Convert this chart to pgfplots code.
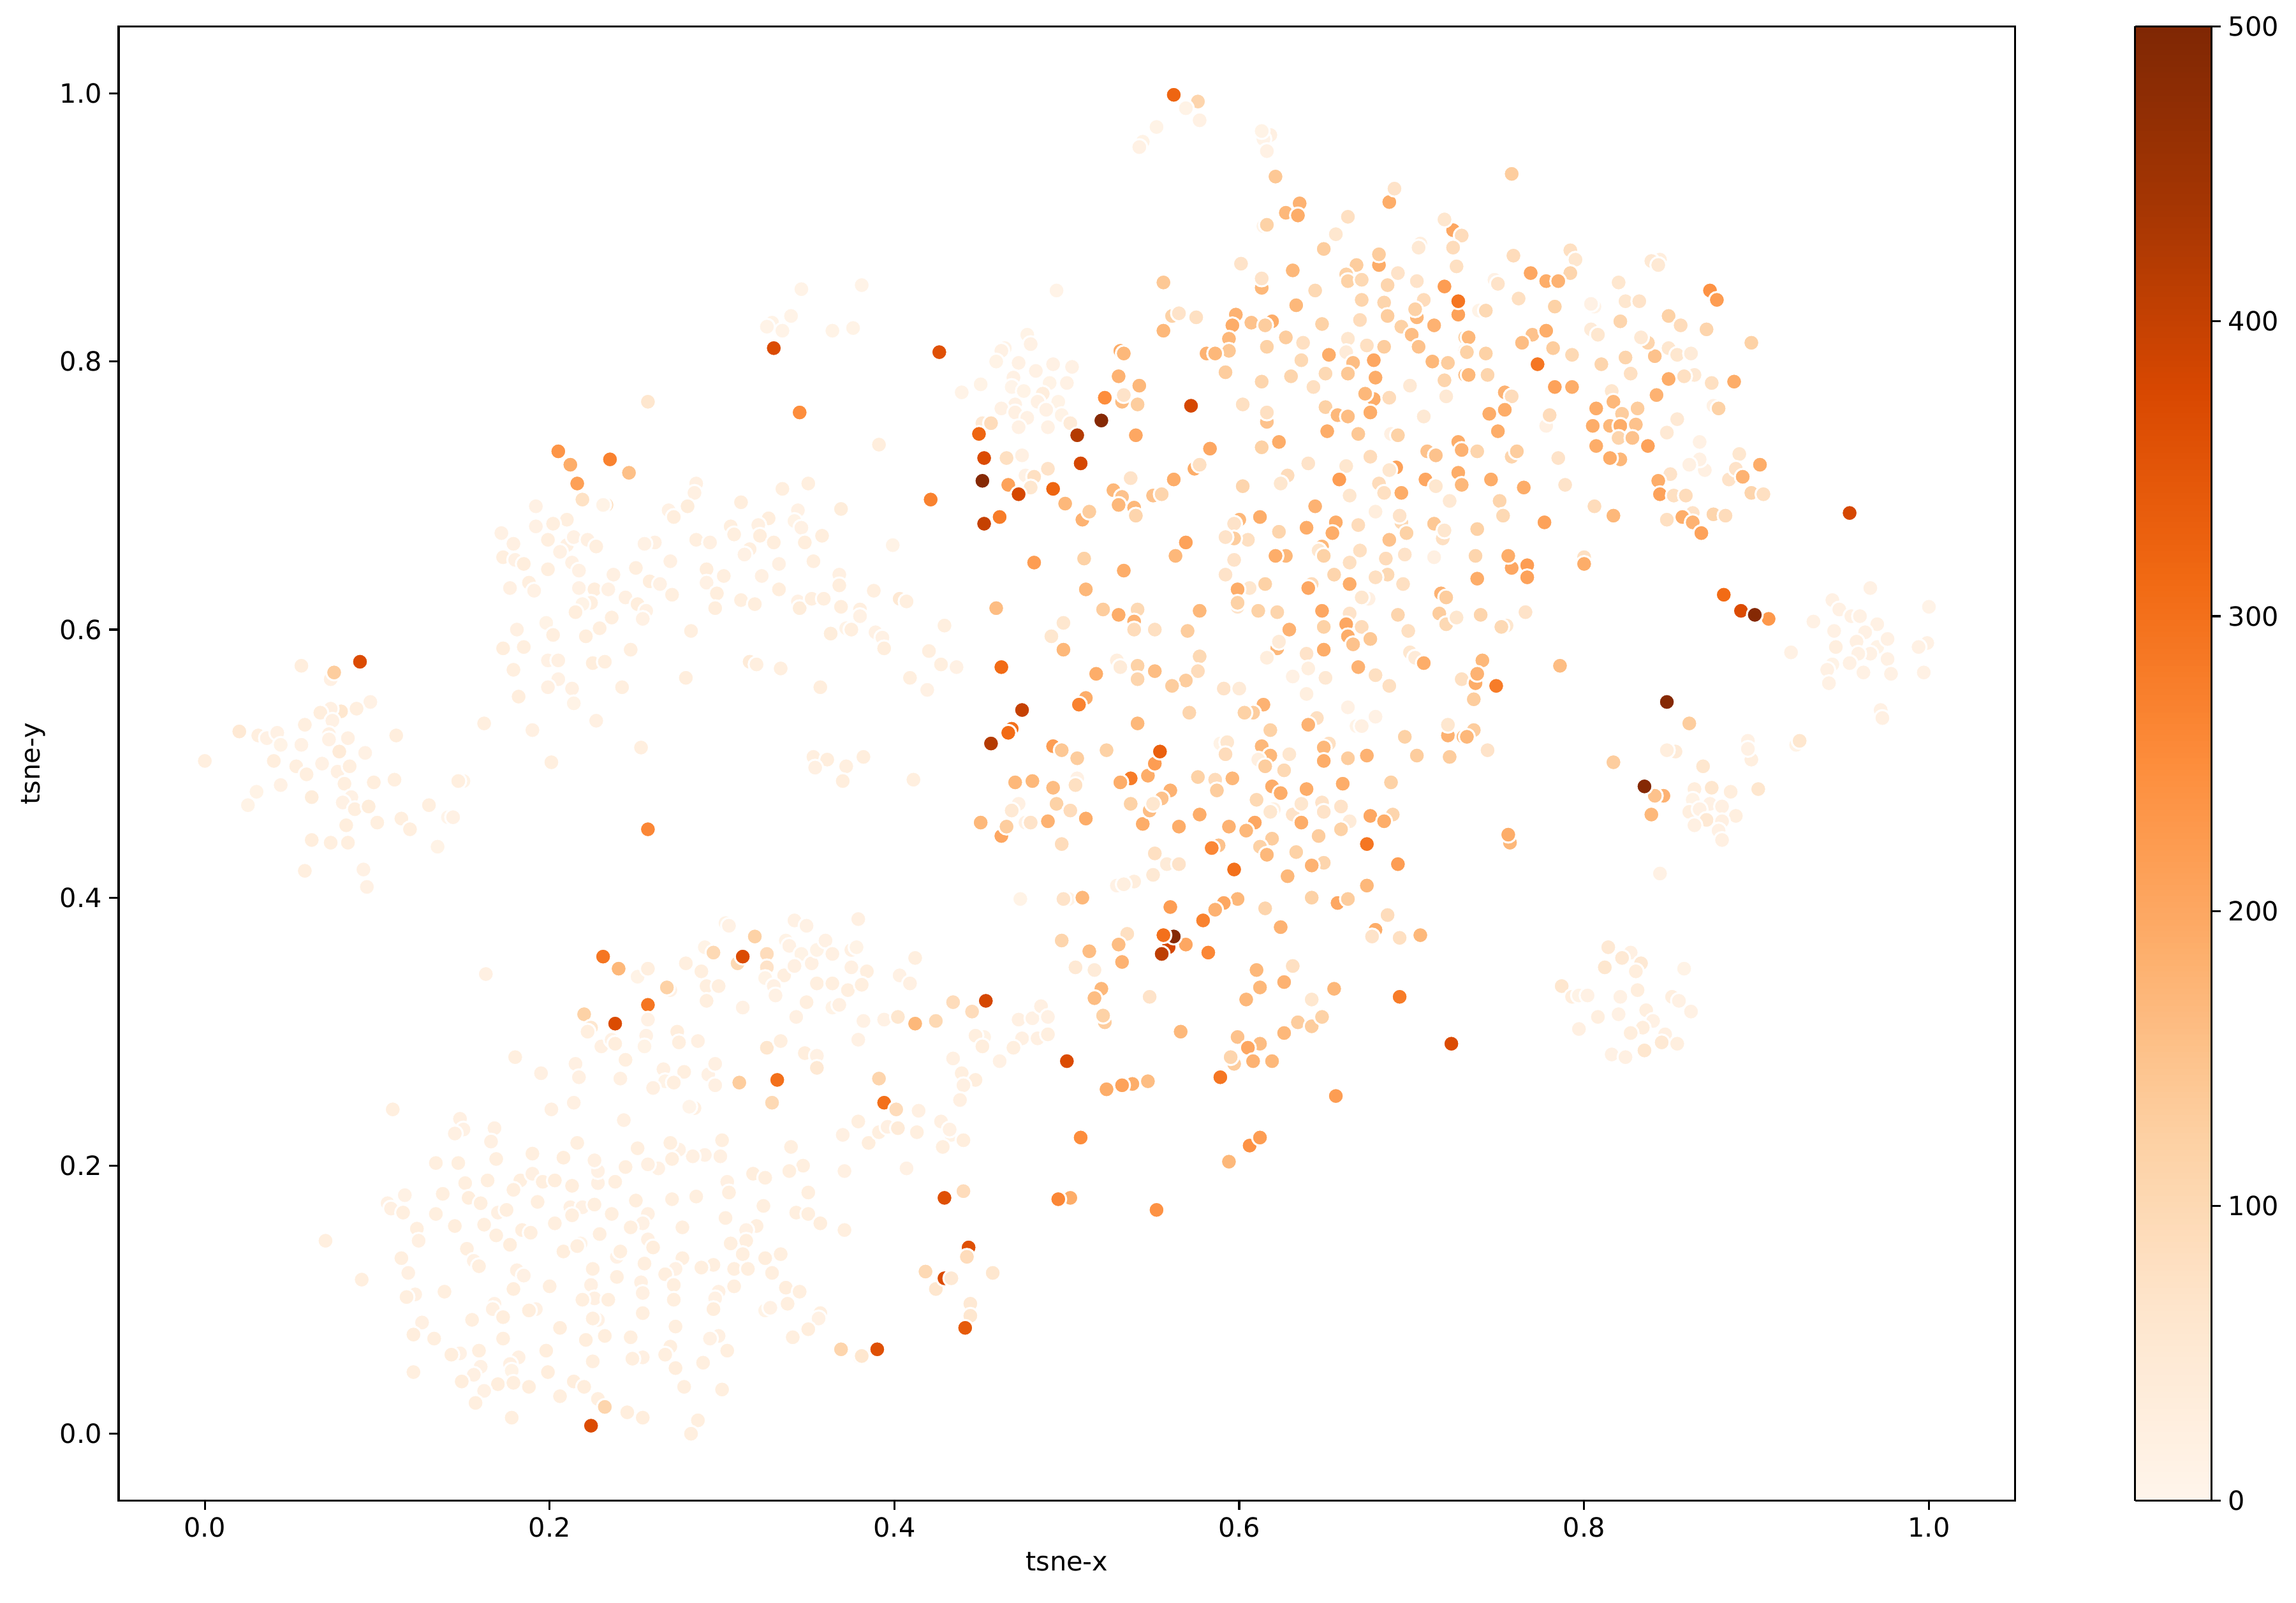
\documentclass[border=0pt]{standalone}
\usepackage{pgfplots}
\usepackage{pgfplotstable}
\usepackage{fontspec}
\setmainfont{DejaVu Sans}
\pgfplotsset{compat=1.18}
\pgfplotsset{colormap={oranges}{rgb255=(255,245,235) rgb255=(254,230,206) rgb255=(253,208,162) rgb255=(253,174,107) rgb255=(253,141,60) rgb255=(241,105,19) rgb255=(217,72,1) rgb255=(166,54,3) rgb255=(127,39,4)}}
\pgfplotstableread{
x y v
.346 .854 8
.381 .857 8
.340 .834 8
.329 .829 10
.326 .826 8
.335 .823 8
.364 .823 10
.376 .825 10
.330 .810 370
.257 .770 60
.345 .762 250
.391 .738 30
.205 .733 235
.235 .727 270
.212 .723 190
.246 .717 155
.216 .709 215
.219 .697 75
.233 .693 75
.231 .693 10
.285 .709 20
.284 .702 20
.280 .692 35
.269 .689 15
.272 .684 30
.192 .692 15
.311 .695 30
.335 .705 25
.350 .709 25
.369 .690 35
.344 .689 15
.342 .681 10
.346 .676 15
.327 .683 30
.321 .678 20
.305 .677 25
.307 .671 25
.322 .670 30
.330 .665 30
.348 .665 30
.358 .670 30
.285 .667 25
.293 .665 20
.316 .660 25
.313 .656 15
.333 .649 20
.353 .651 25
.270 .651 20
.261 .665 20
.255 .664 15
.399 .663 10
.210 .682 25
.202 .679 25
.192 .677 15
.172 .672 15
.179 .664 20
.199 .667 25
.210 .663 20
.214 .669 15
.222 .667 20
.227 .662 25
.206 .658 15
.173 .654 25
.180 .652 15
.185 .649 30
.199 .645 25
.213 .650 15
.217 .644 15
.237 .641 20
.250 .646 25
.258 .636 30
.264 .634 15
.271 .626 25
.244 .624 20
.251 .619 30
.256 .614 15
.254 .608 15
.177 .631 20
.188 .635 25
.191 .629 15
.217 .631 15
.226 .630 30
.234 .630 15
.224 .620 25
.219 .619 10
.215 .613 30
.236 .609 25
.229 .601 25
.221 .595 30
.247 .585 25
.198 .605 10
.202 .596 25
.181 .600 20
.185 .587 25
.173 .586 30
.179 .570 25
.199 .577 15
.205 .577 20
.225 .575 30
.232 .576 25
.205 .563 15
.199 .557 20
.213 .556 20
.214 .545 10
.242 .557 25
.182 .550 30
.279 .564 30
.316 .576 40
.320 .574 25
.334 .571 25
.357 .557 30
.282 .599 25
.291 .645 30
.291 .635 15
.301 .640 25
.297 .627 30
.296 .616 30
.311 .622 25
.319 .619 30
.333 .630 30
.323 .640 20
.344 .621 15
.345 .616 35
.352 .623 25
.359 .623 25
.369 .617 30
.368 .641 20
.368 .633 30
.380 .615 25
.380 .610 15
.388 .629 25
.363 .597 35
.372 .601 10
.375 .600 25
.389 .598 15
.393 .594 15
.394 .586 30
.056 .573 30
.073 .563 20
.075 .568 130
.090 .576 370
.096 .546 15
.079 .539 60
.073 .541 20
.067 .538 30
.088 .541 25
.074 .532 15
.020 .524 50
.031 .521 25
.036 .519 15
.042 .523 15
.044 .514 10
.058 .529 25
.056 .514 15
.072 .522 20
.072 .518 15
.083 .519 20
.111 .521 30
.078 .509 40
.093 .508 15
.000 .502 25
.040 .502 30
.053 .498 25
.059 .492 25
.068 .500 15
.077 .494 20
.084 .498 25
.081 .485 25
.098 .486 30
.110 .488 25
.150 .487 10
.147 .487 25
.044 .484 15
.030 .479 10
.025 .469 10
.062 .475 35
.085 .475 15
.080 .471 15
.087 .466 25
.095 .468 35
.130 .469 25
.114 .459 25
.119 .451 25
.100 .456 25
.082 .454 30
.141 .460 5
.144 .460 15
.062 .443 30
.073 .441 25
.083 .441 25
.135 .438 10
.058 .420 25
.092 .421 15
.094 .408 15
.162 .530 25
.190 .525 20
.201 .501 25
.253 .512 25
.227 .532 20
.257 .451 260
.353 .505 25
.361 .503 30
.354 .497 20
.372 .498 25
.382 .505 30
.370 .487 30
.163 .343 20
.180 .281 25
.195 .269 20
.215 .276 20
.217 .266 20
.220 .313 120
.224 .303 60
.222 .300 25
.231 .356 290
.240 .347 170
.251 .341 10
.257 .347 25
.270 .331 15
.268 .333 120
.257 .320 290
.257 .309 15
.238 .306 370
.230 .289 20
.236 .294 15
.238 .291 30
.256 .297 15
.255 .289 10
.244 .279 25
.241 .265 20
.274 .300 30
.275 .292 25
.286 .293 20
.266 .272 20
.278 .270 25
.267 .263 10
.272 .262 25
.260 .258 20
.292 .268 15
.296 .276 20
.296 .260 20
.310 .262 130
.332 .264 300
.329 .247 100
.326 .288 60
.334 .293 25
.348 .284 30
.355 .282 15
.355 .273 50
.391 .265 110
.394 .247 300
.379 .233 25
.370 .223 20
.385 .217 30
.391 .225 25
.396 .229 20
.371 .196 20
.340 .214 25
.347 .200 25
.339 .196 25
.350 .180 25
.318 .194 30
.325 .191 25
.303 .188 20
.304 .180 25
.300 .219 25
.299 .207 20
.290 .208 15
.283 .207 20
.275 .212 15
.270 .217 25
.271 .205 25
.263 .198 15
.257 .201 20
.251 .213 25
.244 .199 25
.238 .188 25
.228 .187 20
.228 .196 15
.226 .204 20
.216 .217 25
.208 .206 30
.201 .242 20
.214 .247 20
.243 .234 20
.109 .242 25
.284 .243 20
.281 .244 5
.168 .228 20
.148 .235 20
.150 .227 15
.145 .224 20
.166 .218 20
.169 .205 25
.190 .209 25
.134 .202 25
.147 .202 25
.151 .187 25
.164 .189 25
.183 .189 25
.190 .194 20
.196 .188 25
.203 .189 30
.213 .185 30
.179 .182 25
.138 .179 25
.153 .176 30
.160 .172 25
.193 .173 25
.116 .178 15
.106 .172 15
.108 .168 20
.115 .165 25
.134 .164 25
.170 .165 20
.175 .167 25
.212 .169 20
.219 .169 15
.226 .171 25
.213 .163 25
.236 .164 25
.250 .174 30
.271 .175 25
.285 .177 25
.257 .164 20
.254 .157 15
.247 .154 25
.203 .157 25
.229 .149 25
.277 .154 25
.302 .161 25
.324 .170 25
.343 .165 25
.350 .164 25
.357 .157 30
.371 .152 25
.320 .155 25
.314 .152 15
.314 .144 25
.305 .142 25
.123 .153 25
.145 .155 30
.162 .156 25
.169 .148 25
.184 .152 25
.189 .150 25
.070 .144 25
.124 .144 20
.152 .138 25
.177 .141 30
.208 .136 30
.218 .142 10
.216 .140 25
.257 .145 20
.260 .139 30
.239 .132 15
.241 .136 25
.277 .131 25
.255 .127 25
.312 .134 25
.325 .131 30
.334 .134 25
.114 .131 25
.156 .129 15
.159 .125 25
.118 .120 20
.181 .122 20
.185 .118 15
.225 .123 25
.295 .126 25
.288 .124 25
.307 .123 25
.315 .123 25
.329 .120 25
.273 .123 15
.267 .119 25
.239 .117 25
.091 .115 25
.272 .111 25
.253 .113 20
.224 .111 20
.200 .110 25
.179 .108 30
.307 .110 25
.337 .109 30
.345 .106 25
.298 .106 20
.254 .105 20
.139 .106 25
.122 .104 20
.117 .102 25
.226 .101 20
.219 .100 25
.234 .100 25
.272 .100 25
.296 .101 15
.338 .097 25
.325 .092 10
.328 .094 15
.295 .093 30
.168 .097 15
.167 .093 20
.192 .093 15
.188 .092 30
.254 .090 25
.173 .087 30
.357 .090 25
.356 .086 15
.350 .078 30
.155 .085 25
.228 .085 15
.225 .086 25
.126 .083 20
.273 .080 25
.206 .079 30
.121 .074 30
.133 .071 25
.173 .071 25
.232 .073 30
.247 .072 25
.221 .070 30
.298 .073 20
.293 .071 15
.341 .072 25
.270 .065 25
.303 .062 25
.198 .062 30
.159 .062 25
.148 .060 15
.143 .059 30
.369 .063 110
.390 .063 360
.380 .057 10
.381 .058 60
.182 .057 20
.177 .052 20
.160 .050 15
.178 .047 10
.156 .044 20
.121 .046 25
.225 .054 25
.254 .057 20
.248 .056 25
.267 .059 25
.273 .049 30
.289 .053 25
.199 .046 30
.149 .039 30
.170 .037 30
.179 .038 25
.162 .032 15
.188 .035 30
.214 .039 30
.220 .035 30
.278 .035 25
.300 .033 25
.228 .026 25
.232 .020 110
.206 .028 25
.157 .023 25
.178 .012 25
.245 .016 30
.254 .012 30
.286 .010 25
.282 .000 25
.224 .006 370
.302 .381 10
.304 .379 15
.319 .371 120
.342 .383 15
.349 .379 15
.379 .384 20
.290 .363 10
.295 .359 100
.309 .351 100
.312 .356 370
.326 .358 90
.326 .348 70
.325 .340 10
.336 .342 25
.330 .334 15
.331 .327 15
.337 .368 10
.339 .364 15
.346 .358 10
.342 .349 20
.352 .351 20
.355 .361 10
.360 .368 15
.364 .358 20
.375 .361 20
.378 .363 10
.375 .348 20
.384 .345 25
.355 .336 25
.364 .336 25
.373 .331 25
.381 .335 25
.349 .322 25
.364 .318 10
.368 .320 20
.343 .311 20
.382 .308 15
.379 .294 15
.394 .309 15
.279 .351 25
.288 .345 25
.291 .334 25
.298 .334 25
.291 .323 25
.312 .318 15
.418 .121 100
.424 .108 60
.429 .116 370
.433 .116 50
.443 .139 360
.442 .132 90
.457 .120 60
.444 .097 50
.444 .088 60
.441 .079 340
.459 .616 160
.429 .603 25
.498 .605 60
.491 .595 60
.498 .585 170
.420 .584 25
.427 .574 25
.436 .572 15
.409 .564 25
.419 .555 15
.462 .572 310
.474 .540 400
.468 .526 300
.466 .523 310
.456 .515 420
.411 .488 25
.492 .513 220
.497 .510 140
.506 .504 130
.523 .510 120
.511 .549 190
.507 .544 270
.517 .567 190
.530 .611 190
.521 .615 130
.541 .615 100
.539 .606 180
.539 .600 90
.551 .600 80
.570 .599 130
.577 .614 170
.529 .577 25
.531 .572 40
.541 .573 120
.541 .563 110
.551 .569 160
.577 .580 100
.576 .569 90
.569 .562 130
.561 .558 130
.591 .556 70
.600 .556 40
.622 .586 170
.623 .591 40
.616 .579 30
.629 .600 180
.622 .613 110
.611 .614 120
.599 .617 70
.648 .614 200
.649 .602 120
.649 .585 190
.639 .582 70
.640 .571 25
.631 .565 15
.650 .564 50
.664 .612 70
.662 .604 200
.671 .602 90
.676 .593 140
.663 .595 190
.666 .589 150
.692 .611 110
.698 .599 80
.669 .572 180
.679 .566 80
.687 .558 80
.699 .583 60
.702 .579 40
.707 .575 190
.716 .612 130
.720 .604 100
.726 .609 60
.729 .563 80
.639 .552 25
.614 .544 180
.608 .538 130
.603 .538 120
.571 .538 110
.541 .530 170
.663 .542 15
.679 .535 15
.668 .528 10
.671 .528 20
.645 .534 80
.640 .529 180
.589 .515 10
.593 .516 60
.592 .507 90
.618 .525 120
.613 .513 170
.618 .506 170
.629 .507 60
.611 .503 25
.615 .498 130
.626 .495 100
.652 .515 80
.649 .512 170
.649 .502 190
.663 .504 130
.674 .506 180
.696 .520 120
.703 .506 130
.722 .505 130
.721 .521 180
.721 .529 60
.730 .520 160
.576 .490 120
.586 .488 90
.587 .480 130
.596 .489 170
.619 .483 190
.624 .478 190
.639 .481 190
.660 .485 190
.688 .486 120
.610 .473 100
.620 .466 25
.618 .464 60
.631 .462 70
.636 .470 60
.636 .456 190
.648 .471 70
.649 .464 70
.659 .468 70
.664 .457 40
.659 .451 120
.676 .461 200
.689 .462 110
.684 .457 190
.646 .446 130
.619 .444 130
.612 .438 120
.616 .432 170
.633 .434 120
.649 .426 110
.642 .424 180
.674 .440 290
.692 .425 220
.628 .416 170
.609 .456 200
.604 .450 170
.594 .453 180
.577 .462 190
.565 .453 190
.544 .455 190
.588 .439 150
.584 .437 260
.597 .421 300
.537 .470 120
.547 .491 190
.551 .500 220
.554 .509 330
.537 .489 280
.531 .486 190
.560 .480 180
.555 .474 150
.548 .465 160
.550 .470 60
.470 .486 170
.480 .487 170
.492 .482 160
.506 .489 15
.505 .484 80
.494 .470 120
.502 .465 90
.472 .470 20
.468 .465 50
.511 .459 190
.489 .457 180
.476 .456 15
.479 .456 70
.462 .446 200
.465 .453 130
.450 .456 170
.497 .440 90
.551 .433 80
.558 .425 40
.565 .425 70
.550 .417 50
.539 .412 30
.529 .409 15
.533 .410 25
.473 .399 10
.501 .399 10
.498 .399 70
.509 .400 170
.560 .393 220
.599 .399 170
.591 .396 200
.586 .391 180
.579 .383 270
.615 .392 110
.624 .378 180
.642 .400 120
.657 .396 200
.663 .399 130
.674 .409 170
.686 .387 90
.679 .376 190
.677 .371 70
.693 .370 80
.705 .372 170
.497 .368 110
.535 .373 80
.530 .365 160
.513 .360 160
.532 .352 180
.505 .348 50
.516 .346 40
.559 .363 380
.569 .365 200
.582 .359 260
.562 .371 490
.556 .372 300
.555 .358 410
.610 .346 170
.612 .333 170
.631 .349 80
.626 .337 180
.604 .324 170
.642 .324 60
.655 .332 170
.693 .326 280
.520 .332 170
.516 .325 160
.548 .326 70
.522 .307 130
.521 .312 120
.412 .355 25
.403 .342 15
.409 .336 20
.402 .311 60
.412 .306 170
.424 .308 100
.434 .322 90
.445 .315 90
.453 .323 380
.472 .309 20
.480 .310 15
.485 .319 20
.489 .311 15
.566 .300 170
.599 .296 150
.612 .291 160
.605 .288 200
.619 .278 170
.608 .278 180
.597 .276 130
.595 .281 110
.626 .299 170
.634 .307 130
.642 .304 130
.648 .311 120
.723 .291 370
.474 .295 20
.483 .295 20
.489 .298 25
.452 .296 10
.447 .297 25
.451 .289 30
.469 .288 25
.461 .278 15
.434 .280 20
.500 .278 370
.439 .269 25
.447 .264 30
.440 .260 20
.438 .249 20
.523 .257 190
.538 .261 190
.532 .260 210
.547 .263 160
.589 .266 290
.656 .252 220
.401 .242 90
.414 .241 20
.402 .228 40
.413 .225 25
.427 .233 20
.433 .223 10
.432 .227 15
.440 .219 30
.428 .214 25
.407 .198 15
.508 .221 250
.606 .215 240
.612 .221 220
.594 .203 170
.429 .176 360
.440 .181 90
.502 .176 190
.495 .175 260
.552 .167 240
.576 .994 110
.562 .999 320
.569 .989 10
.577 .980 15
.552 .975 10
.544 .964 10
.542 .960 15
.618 .969 20
.614 .966 8
.613 .972 10
.616 .957 15
.621 .938 140
.635 .918 180
.627 .911 170
.634 .909 190
.614 .901 10
.616 .902 120
.687 .919 190
.690 .929 70
.663 .908 80
.656 .895 60
.649 .884 130
.724 .898 200
.719 .906 60
.729 .894 90
.724 .885 90
.705 .888 30
.704 .885 50
.726 .871 80
.601 .873 70
.631 .868 170
.613 .855 170
.613 .862 70
.556 .859 140
.681 .872 190
.681 .880 130
.668 .872 130
.662 .865 120
.663 .860 120
.671 .861 100
.686 .857 110
.692 .866 70
.703 .860 70
.719 .856 220
.727 .835 210
.727 .845 290
.707 .846 90
.644 .853 100
.633 .842 170
.671 .846 110
.684 .844 110
.686 .834 130
.670 .831 90
.648 .828 120
.703 .833 170
.702 .839 120
.694 .826 120
.713 .827 180
.700 .820 160
.704 .811 150
.731 .818 120
.731 .808 130
.561 .834 120
.565 .836 70
.575 .833 80
.556 .823 170
.598 .835 180
.596 .827 190
.607 .829 150
.619 .830 190
.615 .827 130
.594 .817 170
.627 .818 130
.616 .811 120
.594 .808 140
.581 .806 180
.586 .806 170
.592 .792 130
.637 .814 80
.663 .817 60
.674 .812 80
.684 .811 130
.652 .805 190
.662 .807 40
.666 .799 160
.636 .801 100
.678 .801 200
.712 .800 170
.721 .799 130
.650 .791 100
.663 .791 140
.679 .788 190
.630 .789 110
.613 .785 110
.643 .781 80
.699 .782 50
.719 .786 110
.731 .790 160
.720 .774 50
.678 .772 190
.673 .776 170
.687 .773 90
.650 .766 120
.657 .760 170
.663 .759 160
.676 .762 190
.602 .768 80
.616 .755 150
.616 .762 80
.707 .759 50
.651 .748 190
.669 .746 140
.688 .746 20
.692 .745 120
.613 .736 120
.623 .740 190
.727 .740 190
.729 .734 180
.709 .733 150
.714 .730 150
.676 .729 90
.640 .724 70
.662 .722 60
.691 .721 210
.687 .719 60
.727 .717 190
.628 .715 90
.624 .709 60
.602 .707 110
.658 .712 220
.681 .709 90
.684 .702 80
.708 .712 200
.714 .707 60
.729 .708 170
.694 .702 190
.664 .700 60
.722 .696 50
.644 .692 180
.679 .688 30
.612 .684 190
.600 .682 170
.597 .679 70
.694 .680 100
.693 .685 70
.656 .680 190
.654 .672 190
.669 .678 90
.639 .676 190
.623 .673 110
.605 .667 80
.597 .668 130
.592 .669 70
.713 .679 140
.718 .668 80
.719 .674 60
.697 .672 120
.687 .667 150
.670 .659 80
.648 .662 170
.646 .659 60
.649 .655 120
.627 .655 170
.621 .655 190
.685 .653 90
.696 .656 70
.664 .650 80
.713 .654 20
.597 .652 70
.592 .641 70
.655 .641 110
.686 .641 100
.679 .639 80
.695 .634 80
.664 .634 190
.615 .634 120
.606 .631 60
.599 .630 190
.642 .634 90
.640 .631 200
.717 .627 180
.720 .624 130
.675 .623 20
.671 .624 60
.599 .620 120
.563 .655 170
.569 .665 210
.510 .653 120
.481 .650 220
.533 .644 190
.511 .630 170
.494 .853 8
.477 .820 10
.479 .813 15
.464 .810 8
.462 .808 15
.459 .800 10
.472 .799 15
.482 .793 15
.492 .798 15
.503 .796 15
.450 .783 10
.439 .777 8
.469 .788 15
.468 .781 5
.475 .778 10
.490 .784 10
.500 .784 15
.486 .776 30
.483 .770 15
.470 .768 15
.462 .765 15
.470 .762 20
.495 .770 10
.488 .764 15
.497 .760 10
.477 .758 15
.502 .754 40
.472 .751 15
.489 .751 15
.531 .808 190
.533 .806 170
.530 .789 180
.542 .782 170
.532 .770 160
.533 .775 70
.522 .773 250
.541 .768 130
.520 .756 490
.540 .745 200
.572 .767 380
.426 .807 360
.451 .754 50
.456 .754 90
.449 .746 320
.506 .745 420
.452 .728 370
.465 .728 80
.474 .730 20
.508 .724 380
.489 .720 70
.476 .715 15
.481 .714 80
.451 .711 490
.466 .708 210
.479 .706 60
.472 .701 380
.492 .705 320
.499 .694 170
.421 .697 270
.461 .684 280
.452 .679 400
.509 .682 180
.513 .688 130
.537 .713 70
.527 .704 170
.532 .699 150
.530 .693 170
.539 .691 170
.540 .685 110
.550 .700 150
.555 .701 110
.562 .712 190
.574 .720 190
.577 .723 80
.583 .735 200
.403 .623 50
.407 .621 25
.758 .940 130
.792 .883 80
.795 .876 60
.792 .866 110
.759 .879 90
.769 .866 200
.778 .860 190
.785 .860 180
.748 .861 15
.750 .858 70
.762 .847 80
.739 .838 10
.743 .838 100
.783 .841 120
.733 .818 170
.732 .807 120
.743 .806 120
.744 .790 110
.733 .790 170
.770 .820 150
.778 .823 190
.764 .814 160
.782 .810 130
.773 .798 290
.793 .805 100
.783 .781 210
.793 .781 190
.754 .777 180
.758 .774 90
.754 .764 190
.745 .761 190
.750 .748 190
.778 .752 20
.780 .760 90
.810 .798 110
.824 .803 110
.821 .830 110
.827 .791 80
.841 .804 150
.837 .814 110
.833 .818 50
.849 .810 60
.854 .805 60
.862 .806 40
.820 .859 60
.806 .841 8
.804 .843 15
.804 .824 40
.808 .820 60
.824 .845 60
.832 .845 70
.844 .876 30
.839 .875 50
.843 .872 50
.849 .834 120
.856 .827 90
.871 .824 110
.873 .853 240
.877 .846 220
.897 .814 120
.849 .787 190
.842 .775 180
.864 .790 50
.858 .789 80
.874 .784 80
.887 .785 190
.816 .778 60
.817 .770 170
.807 .765 190
.822 .761 130
.831 .765 130
.805 .752 190
.815 .752 170
.821 .752 190
.830 .753 150
.820 .743 110
.828 .743 150
.807 .737 190
.821 .727 170
.815 .728 190
.837 .737 210
.854 .757 50
.848 .747 50
.867 .740 15
.870 .719 20
.867 .727 15
.861 .723 20
.875 .767 15
.878 .765 120
.890 .731 60
.884 .712 70
.888 .720 70
.892 .714 180
.902 .723 190
.897 .702 110
.904 .701 80
.850 .716 70
.843 .711 190
.844 .701 210
.852 .700 80
.859 .700 90
.806 .692 90
.817 .685 170
.848 .682 80
.863 .687 70
.857 .684 190
.863 .680 180
.875 .686 110
.882 .685 90
.868 .672 210
.954 .687 380
.789 .708 70
.765 .706 190
.746 .712 190
.785 .728 70
.758 .729 110
.761 .733 130
.738 .733 110
.751 .696 110
.753 .685 100
.777 .680 210
.738 .675 120
.758 .646 200
.756 .655 190
.737 .655 110
.767 .648 220
.767 .639 210
.738 .638 190
.800 .654 80
.800 .649 190
.766 .613 70
.740 .611 110
.755 .603 60
.752 .602 100
.881 .626 310
.891 .614 370
.907 .608 230
.899 .611 490
.966 .631 15
.944 .622 15
.948 .615 15
.955 .610 15
.960 .610 15
.970 .604 15
.933 .606 15
1.000 .617 8
.945 .599 15
.963 .598 15
.999 .590 15
.994 .587 15
.946 .587 25
.958 .591 20
.970 .587 10
.966 .582 15
.959 .582 15
.976 .593 15
.920 .583 15
.976 .578 15
.944 .574 10
.941 .570 15
.954 .575 15
.962 .568 15
.978 .567 15
.997 .568 15
.942 .560 15
.741 .577 170
.737 .560 190
.738 .567 180
.749 .558 280
.736 .548 130
.786 .573 160
.848 .546 490
.861 .530 130
.972 .540 15
.973 .534 20
.923 .514 10
.925 .517 60
.895 .517 15
.897 .503 25
.895 .511 15
.853 .509 40
.848 .510 30
.817 .501 130
.869 .498 60
.846 .476 180
.841 .476 150
.835 .483 490
.839 .462 170
.864 .481 30
.874 .482 60
.885 .479 30
.901 .481 60
.863 .473 10
.873 .470 15
.861 .464 25
.867 .466 15
.880 .468 20
.888 .461 25
.871 .458 50
.880 .457 20
.864 .454 20
.878 .450 15
.880 .443 20
.844 .418 15
.757 .441 170
.756 .447 190
.736 .525 130
.732 .520 170
.744 .510 70
.814 .363 50
.827 .359 20
.822 .355 50
.833 .351 50
.812 .348 60
.830 .345 30
.858 .347 10
.787 .334 60
.793 .326 30
.797 .327 10
.802 .327 15
.831 .331 30
.821 .326 15
.851 .326 25
.855 .323 15
.862 .315 15
.836 .316 25
.820 .313 15
.840 .308 15
.808 .311 25
.797 .302 20
.834 .303 30
.827 .299 30
.847 .298 20
.845 .292 50
.854 .291 25
.835 .286 60
.816 .283 15
.824 .281 20
}\pts
\begin{document}
\begin{tikzpicture}
\path (0,0) rectangle (15in,10.47in);
\begin{axis}[
  at={(0.775in,0.667in)}, anchor=south west,
  scale only axis, width=12.39in, height=9.63in,
  xmin=-0.05, xmax=1.05, ymin=-0.05, ymax=1.05,
  xtick={0,0.2,0.4,0.6,0.8,1.0}, ytick={0,0.2,0.4,0.6,0.8,1.0},
  /pgf/number format/assume math mode=true,
  /pgf/number format/fixed, /pgf/number format/fixed zerofill, /pgf/number format/precision=1,
  tick align=outside, xtick pos=lower, ytick pos=left, major tick length=4.4pt,
  axis line style={line width=1pt}, tick style={line width=1pt, black},
  ticklabel style={font=\fontsize{12.5}{15}\selectfont},
  label style={font=\fontsize{12.5}{15}\selectfont},
  xlabel={tsne-x}, ylabel={tsne-y},
  colormap name=oranges, point meta min=0, point meta max=500,
  colorbar sampled,
  colorbar style={
    samples=257,
    at={(1.0632,0)}, anchor=south west,
    scale only axis, width=0.5in, height=9.63in,
    ytick={0,100,200,300,400,500},
    ytick pos=right, yticklabel pos=right,
    /pgf/number format/assume math mode=true,
    /pgf/number format/fixed, /pgf/number format/precision=0, /pgf/number format/fixed zerofill=false,
    yticklabel style={font=\fontsize{12.5}{15}\selectfont},
    tick align=outside, major tick length=4.4pt,
    axis line style={line width=1pt}, ytick style={line width=1pt, black},
  },
]
\addplot[scatter, only marks, mark=*, mark size=3.76pt, point meta=explicit,
  scatter/use mapped color={draw=white, fill=mapped color},
  mark options={line width=0.94pt}] table[x=x, y=y, meta=v] {\pts};
\end{axis}
\end{tikzpicture}
\end{document}
